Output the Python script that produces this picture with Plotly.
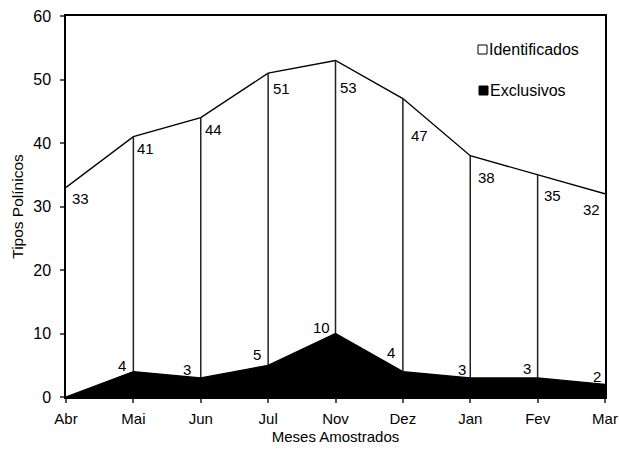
import plotly.graph_objects as go

# Monthly counts of pollen types
meses = ["Abr", "Mai", "Jun", "Jul", "Nov", "Dez", "Jan", "Fev", "Mar"]
identificados = [33, 41, 44, 51, 53, 47, 38, 35, 32]
exclusivos = [0, 4, 3, 5, 10, 4, 3, 3, 2]

# pixel offsets for the value labels (dx, dy)
off_ident = [(4, -1), (2, -1), (2, -1), (3, -5), (2, -17), (6, -26), (6, -11), (4, -10), (-3, -5)]
off_excl = [(0, 0), (-5, -4), (-8, -2), (-5, 0), (-4, -4), (-6, 9), (-2, -2), (-5, -1), (-2, -3)]

FONT = "Liberation Sans, Arial, Helvetica, sans-serif"
xs = list(range(len(meses)))

fig = go.Figure()

fig.add_trace(go.Scatter(
    x=xs, y=identificados, mode="lines", fill="tozeroy",
    fillcolor="white", line=dict(color="black", width=1.4),
    name="Identificados", showlegend=False, hoverinfo="skip"))

# vertical separators between the two series at each month
vx, vy = [], []
for i, (a, b) in enumerate(zip(exclusivos, identificados)):
    if 0 < i < len(meses) - 1:
        vx += [i, i, None]
        vy += [a, b, None]
fig.add_trace(go.Scatter(x=vx, y=vy, mode="lines",
                         line=dict(color="#222", width=1.5),
                         showlegend=False, hoverinfo="skip"))

fig.add_trace(go.Scatter(
    x=xs, y=exclusivos, mode="lines", fill="tozeroy",
    fillcolor="black", line=dict(color="black", width=1.2),
    name="Exclusivos", showlegend=False, hoverinfo="skip"))

ann = []
for i, v in enumerate(identificados):
    dx, dy = off_ident[i]
    ann.append(dict(x=i, y=v, text=str(v), showarrow=False,
                    xanchor="right" if dx < 0 else "left", yanchor="top",
                    xshift=dx, yshift=dy,
                    font=dict(family=FONT, size=15, color="black")))
for i, v in enumerate(exclusivos):
    if i == 0:
        continue
    dx, dy = off_excl[i]
    ann.append(dict(x=i, y=v, text=str(v), showarrow=False,
                    xanchor="right", yanchor="bottom",
                    xshift=dx, yshift=dy,
                    font=dict(family=FONT, size=15, color="black")))

# legend drawn by hand: small squares with labels
shapes = [
    dict(type="rect", xref="paper", yref="paper",
         x0=(478 - 66) / 539, x1=(487 - 66) / 539,
         y0=(397 - 54) / 381, y1=(397 - 45) / 381,
         line=dict(color="black", width=1), fillcolor="white"),
    dict(type="rect", xref="paper", yref="paper",
         x0=(479 - 66) / 539, x1=(488 - 66) / 539,
         y0=(397 - 95) / 381, y1=(397 - 86) / 381,
         line=dict(color="black", width=1), fillcolor="black"),
]
ann.append(dict(xref="paper", yref="paper", x=(487 - 66) / 539, y=(397 - 49.5) / 381,
                text="Identificados", showarrow=False, xanchor="left", yanchor="middle",
                font=dict(family=FONT, size=16, color="black")))
ann.append(dict(xref="paper", yref="paper", x=(488 - 66) / 539, y=(397 - 90.5) / 381,
                text="Exclusivos", showarrow=False, xanchor="left", yanchor="middle",
                font=dict(family=FONT, size=16, color="black")))

fig.update_layout(
    width=619, height=450,
    margin=dict(l=66, r=14, t=16, b=53),
    paper_bgcolor="white", plot_bgcolor="white",
    font=dict(family=FONT, size=15, color="black"),
    annotations=ann, shapes=shapes,
    xaxis=dict(range=[0, len(meses) - 1], tickvals=xs, ticktext=meses,
               automargin=False,
               showgrid=False, zeroline=False, showline=True, linecolor="black",
               linewidth=1.5, mirror=True, ticks="outside", ticklen=4,
               tickcolor="#555", tickwidth=1.5, ticklabelstandoff=3,
               tickfont=dict(family=FONT, size=15),
               title=dict(text="Meses Amostrados", standoff=6,
                          font=dict(family=FONT, size=15))),
    yaxis=dict(range=[0, 60], tickvals=[0, 10, 20, 30, 40, 50, 60],
               automargin=False,
               showgrid=False, zeroline=False, showline=True, linecolor="black",
               linewidth=1.5, mirror=True, ticks="outside", ticklen=4,
               tickcolor="#555", tickwidth=1.5, ticklabelstandoff=6,
               tickfont=dict(family=FONT, size=16),
               title=dict(text="Tipos Polínicos", standoff=6,
                          font=dict(family=FONT, size=15.5))),
)

fig.write_html("out.html")
